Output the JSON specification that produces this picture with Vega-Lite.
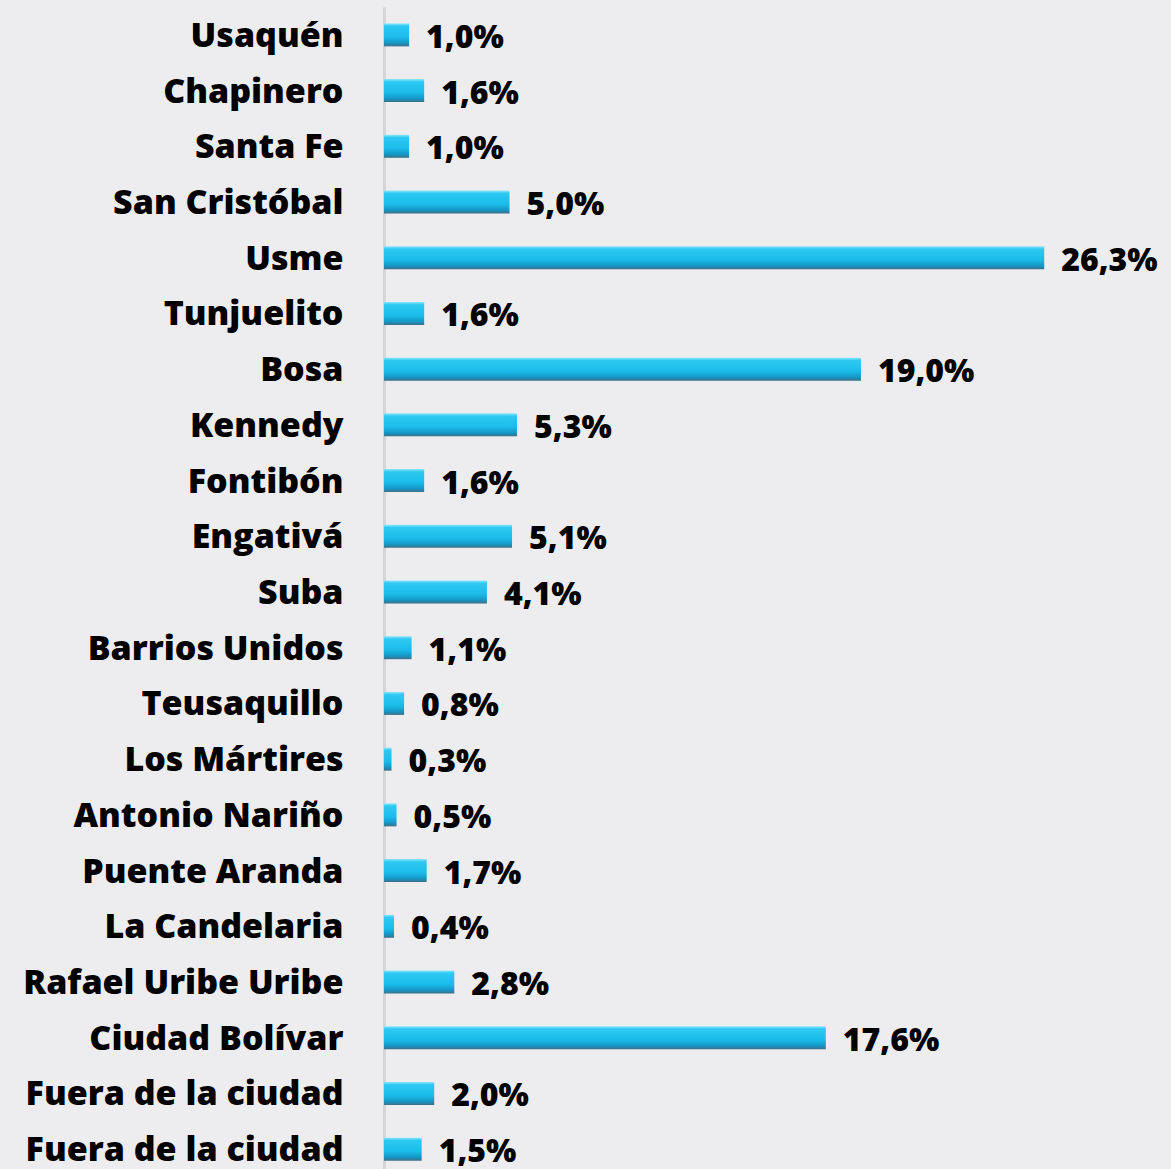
{
  "$schema": "https://vega.github.io/schema/vega-lite/v6.json",
  "autosize": "none",
  "padding": {"left": 384, "top": 7, "right": 0, "bottom": 0},
  "width": 787,
  "height": 1170,
  "background": "#EDEDF0",
  "data": {"values": [
    {"name": "Usaquén", "pct": 1.0, "label": "1,0%"},
    {"name": "Chapinero", "pct": 1.6, "label": "1,6%"},
    {"name": "Santa Fe", "pct": 1.0, "label": "1,0%"},
    {"name": "San Cristóbal", "pct": 5.0, "label": "5,0%"},
    {"name": "Usme", "pct": 26.3, "label": "26,3%"},
    {"name": "Tunjuelito", "pct": 1.6, "label": "1,6%"},
    {"name": "Bosa", "pct": 19.0, "label": "19,0%"},
    {"name": "Kennedy", "pct": 5.3, "label": "5,3%"},
    {"name": "Fontibón\u00a0", "pct": 1.6, "label": "1,6%"},
    {"name": "Engativá", "pct": 5.1, "label": "5,1%"},
    {"name": "Suba", "pct": 4.1, "label": "4,1%"},
    {"name": "Barrios Unidos", "pct": 1.1, "label": "1,1%"},
    {"name": "Teusaquillo", "pct": 0.8, "label": "0,8%"},
    {"name": "Los Mártires", "pct": 0.3, "label": "0,3%"},
    {"name": "Antonio Nariño", "pct": 0.5, "label": "0,5%"},
    {"name": "Puente Aranda", "pct": 1.7, "label": "1,7%"},
    {"name": "La Candelaria", "pct": 0.4, "label": "0,4%"},
    {"name": "Rafael Uribe Uribe", "pct": 2.8, "label": "2,8%"},
    {"name": "Ciudad Bolívar", "pct": 17.6, "label": "17,6%"},
    {"name": "Fuera de la ciudad", "pct": 2.0, "label": "2,0%"},
    {"name": "Fuera de la ciudad\u200b", "pct": 1.5, "label": "1,5%"}
  ]},
  "encoding": {
    "y": {
      "field": "name", "type": "nominal", "sort": null,
      "scale": {"paddingInner": 0, "paddingOuter": 0},
      "axis": {
        "title": null, "ticks": false, "domain": true,
        "domainColor": "#D6D6D8", "domainWidth": 3,
        "labelFont": "Open Sans", "labelFontWeight": 800, "labelFontSize": 34,
        "labelColor": "#000000", "labelPadding": 41, "labelLimit": 400,
        "labelBaseline": "middle", "labelOffset": 2
      }
    },
    "x": {
      "field": "pct", "type": "quantitative",
      "scale": {"domain": [0, 31.35], "nice": false, "zero": true},
      "axis": null
    }
  },
  "layer": [
    {
      "mark": {
        "type": "bar", "size": 23, "cornerRadius": 0,
        "color": {
          "gradient": "linear", "x1": 0, "y1": 0, "x2": 0, "y2": 1,
          "stops": [
            {"offset": 0, "color": "#8FE6FB"},
            {"offset": 0.12, "color": "#2DC9F3"},
            {"offset": 0.6, "color": "#1BBBE9"},
            {"offset": 0.85, "color": "#1497C6"},
            {"offset": 1, "color": "#3E6F86"}
          ]
        }
      }
    },
    {
      "mark": {
        "type": "text", "align": "left", "baseline": "middle",
        "dx": 17, "dy": 3,
        "font": "Open Sans", "fontWeight": 800, "fontSize": 32, "color": "#000000"
      },
      "encoding": {"text": {"field": "label", "type": "nominal"}}
    }
  ],
  "config": {"view": {"stroke": null}}
}
